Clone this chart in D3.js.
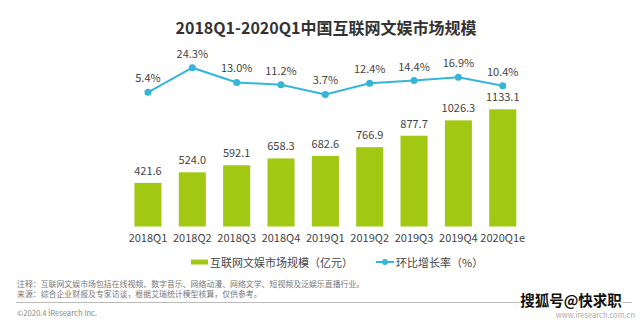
<!DOCTYPE html>
<html>
<head>
<meta charset="utf-8">
<script src="https://cdn.jsdelivr.net/npm/d3@7"></script>
<style>
  body { margin: 0; background: #fff; }
  svg { display: block; font-family: "Noto Sans CJK SC", "Noto Sans", sans-serif; }
</style>
</head>
<body>
<svg id="chart" width="640" height="320"></svg>
<script>
// data
const quarters = ['2018Q1', '2018Q2', '2018Q3', '2018Q4', '2019Q1', '2019Q2', '2019Q3', '2019Q4', '2020Q1e'];
const marketSize = [421.6, 524.0, 592.1, 658.3, 682.6, 766.9, 877.7, 1026.3, 1133.1];
const growthRate = [5.4, 24.3, 13.0, 11.2, 3.7, 12.4, 14.4, 16.9, 10.4];
const legendLabels = ['互联网文娱市场规模（亿元）', '环比增长率（%）'];
const noteLines = [
    '注释：互联网文娱市场包括在线视频、数字音乐、网络动漫、网络文学、短视频及泛娱乐直播行业。',
    '来源：综合企业财报及专家访谈，根据艾瑞统计模型核算，仅供参考。'
];

const green = '#a1c913';
const blue = '#35b6d9';

const svg = d3.select('#chart');

// title
svg.append('text')
    .attr('x', 326).attr('y', 27)
    .attr('text-anchor', 'middle').attr('dominant-baseline', 'central')
    .attr('font-size', 16).attr('font-weight', 'bold').attr('fill', '#333')
    .text('2018Q1-2020Q1中国互联网文娱市场规模');

// scales
const x = d3.scaleBand()
    .domain(quarters)
    .range([125.8, 524.9])
    .paddingInner(0.39)
    .paddingOuter(0.195);

const yBar = d3.scaleLinear().domain([0, 1200]).range([226.5, 102.4]);
const yLine = d3.scaleLinear().domain([0, 30]).range([99.3, 60.3]);

const cx = d => x(d) + x.bandwidth() / 2;

// bars
svg.append('g').selectAll('rect')
    .data(quarters)
    .join('rect')
        .attr('x', d => x(d))
        .attr('y', (d, i) => yBar(marketSize[i]))
        .attr('width', x.bandwidth())
        .attr('height', (d, i) => yBar(0) - yBar(marketSize[i]))
        .attr('fill', green);

svg.append('g').selectAll('text')
    .data(quarters)
    .join('text')
        .attr('x', d => cx(d))
        .attr('y', (d, i) => yBar(marketSize[i]) - 13)
        .attr('text-anchor', 'middle').attr('dominant-baseline', 'central')
        .attr('font-size', 11).attr('fill', '#444')
        .text((d, i) => marketSize[i].toFixed(1));

// growth line
const line = d3.line()
    .x((d, i) => cx(quarters[i]))
    .y(d => yLine(d));

svg.append('path')
    .datum(growthRate)
    .attr('d', line)
    .attr('fill', 'none')
    .attr('stroke', blue)
    .attr('stroke-width', 2);

svg.append('g').selectAll('circle')
    .data(growthRate)
    .join('circle')
        .attr('cx', (d, i) => cx(quarters[i]))
        .attr('cy', d => yLine(d))
        .attr('r', 3.5)
        .attr('fill', blue);

svg.append('g').selectAll('text')
    .data(growthRate)
    .join('text')
        .attr('x', (d, i) => cx(quarters[i]))
        .attr('y', d => yLine(d) - 15)
        .attr('text-anchor', 'middle').attr('dominant-baseline', 'central')
        .attr('font-size', 11).attr('fill', '#444')
        .text(d => d.toFixed(1) + '%');

// x axis (labels only)
const xAxis = svg.append('g')
    .attr('transform', `translate(0, ${yBar(0)})`)
    .call(d3.axisBottom(x).tickSize(0).tickPadding(8));
xAxis.select('.domain').remove();
xAxis.selectAll('text')
    .attr('font-size', 11).attr('fill', '#444')
    .attr('font-family', '"Noto Sans CJK SC", "Noto Sans", sans-serif');

// legend
const legend = svg.append('g').attr('font-size', 11).attr('fill', '#444');
legend.append('rect')
    .attr('x', 191).attr('y', 259.5).attr('width', 17).attr('height', 5)
    .attr('fill', green);
legend.append('text')
    .attr('x', 210).attr('y', 262).attr('dominant-baseline', 'central')
    .attr('fill', '#444')
    .text(legendLabels[0]);
legend.append('line')
    .attr('x1', 376).attr('x2', 394).attr('y1', 262).attr('y2', 262)
    .attr('stroke', blue).attr('stroke-width', 2);
legend.append('circle')
    .attr('cx', 385).attr('cy', 262).attr('r', 3).attr('fill', blue);
legend.append('text')
    .attr('x', 396).attr('y', 262).attr('dominant-baseline', 'central')
    .attr('fill', '#444')
    .text(legendLabels[1]);

// notes
svg.append('g').selectAll('text')
    .data(noteLines)
    .join('text')
        .attr('x', 17)
        .attr('y', (d, i) => 283 + i * 10)
        .attr('dominant-baseline', 'central')
        .attr('font-size', 7.9).attr('fill', '#777')
        .text(d => d);

svg.append('line')
    .attr('x1', 16).attr('x2', 632).attr('y1', 302.5).attr('y2', 302.5)
    .attr('stroke', '#bbb').attr('stroke-width', 1);

svg.append('text')
    .attr('x', 17).attr('y', 312).attr('dominant-baseline', 'central')
    .attr('font-size', 7.6).attr('fill', '#888')
    .text('©2020.4 iResearch Inc.');

svg.append('text')
    .attr('x', 635).attr('y', 314.5).attr('text-anchor', 'end').attr('dominant-baseline', 'central')
    .attr('font-size', 7.5).attr('fill', '#aaa')
    .text('www.iresearch.com.cn');

// watermark
svg.append('text')
    .attr('x', 571).attr('y', 299.5).attr('text-anchor', 'middle').attr('dominant-baseline', 'central')
    .attr('font-size', 14.5).attr('font-weight', 'bold')
    .attr('fill', '#111').attr('stroke', '#fff').attr('stroke-width', 2.5)
    .attr('paint-order', 'stroke')
    .text('搜狐号@快求职');
</script>
</body>
</html>
